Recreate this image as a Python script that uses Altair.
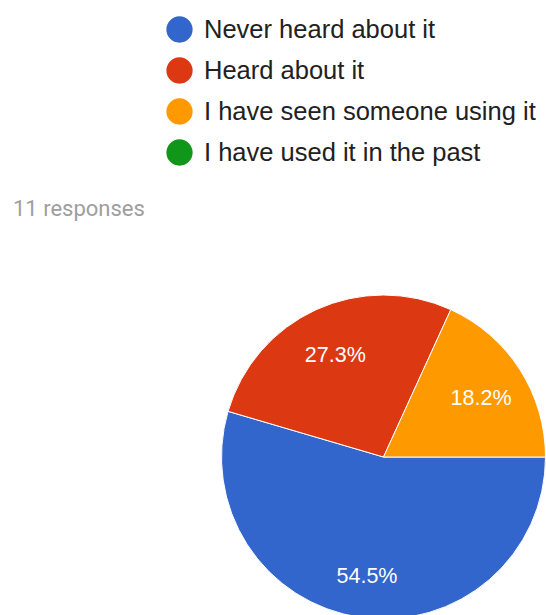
import math
import altair as alt
import pandas as pd

categories = ["Never heard about it", "Heard about it", "I have seen someone using it", "I have used it in the past"]
counts = [6, 3, 2, 0]
colors = ["#3366CC", "#DC3912", "#FF9900", "#109618"]
total_responses = 11
subtitle = ["11 responses"]

df = pd.DataFrame({
    "category": categories,
    "count": counts,
    "order": list(range(len(categories))),
})
df["pct"] = df["count"] / total_responses

CX, CY, R = 383.5, 457, 162

color = alt.Color(
    "category:N",
    scale=alt.Scale(domain=categories, range=colors),
    sort=categories,
    legend=alt.Legend(
        orient="none", legendX=166, legendY=16, title=None,
        symbolType="circle", symbolSize=690, symbolStrokeWidth=0, symbolOpacity=1,
        labelFontSize=25.5, labelFont="Liberation Sans", labelColor="#212121",
        labelOffset=11, rowPadding=14, labelLimit=500, padding=0,
    ),
)
theta = alt.Theta("count:Q", stack=True,
                  scale=alt.Scale(range=[math.pi / 2, math.pi / 2 + 2 * math.pi]))

base = alt.Chart(df).transform_filter("datum.count > 0")

arcs = base.mark_arc(radius=R, stroke="white", strokeWidth=1).encode(
    theta=theta,
    color=color,
    order=alt.Order("order:Q"),
    x=alt.value(CX), y=alt.value(CY),
)

labels = base.mark_text(
    radius=116, dy=5, color="white", fontSize=21.5, font="Liberation Sans",
    align="center", baseline="middle",
).encode(
    theta=theta,
    order=alt.Order("order:Q"),
    text=alt.Text("pct:Q", format=".1%"),
    x=alt.value(CX), y=alt.value(CY),
)

sub = alt.Chart(pd.DataFrame({"t": subtitle})).mark_text(
    align="left", baseline="alphabetic", fontSize=22, font="Roboto",
    color="#9e9e9e",
).encode(text="t:N", x=alt.value(13), y=alt.value(216))

chart = alt.layer(arcs, labels, sub).properties(
    width=546, height=615, padding=0, autosize=alt.AutoSizeParams(type="none"),
).configure_view(stroke=None)

chart.save("out.html", embed_options={"renderer": "svg", "actions": False})
